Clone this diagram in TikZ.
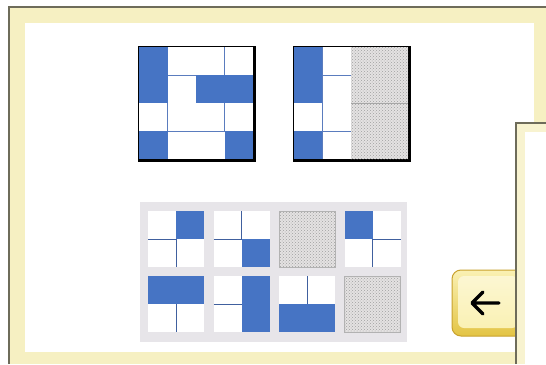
\documentclass[tikz,border=0pt]{standalone}
\usetikzlibrary{patterns}
\definecolor{frameyel}{HTML}{F6F0C2}
\definecolor{panelyel}{HTML}{F8F3D0}
\definecolor{frameline}{HTML}{6E6C5A}
\definecolor{cellblue}{HTML}{4674C4}
\definecolor{gridline}{HTML}{5A7CBE}
\definecolor{tileline}{HTML}{40609E}
\definecolor{panelgray}{HTML}{E7E5E9}
\definecolor{stip}{HTML}{E4E2E2}
\definecolor{btnedge}{HTML}{C9A22E}
\definecolor{btntop}{HTML}{FAF1B4}
\definecolor{btnbot}{HTML}{E3C444}
\tikzset{
  bluecell/.style={fill=cellblue},
  gline/.style={draw=gridline, line width=0.9pt},
  tline/.style={draw=tileline, line width=1pt},
  stipple/.style={preaction={fill=stip}, pattern=crosshatch dots, pattern color=gray!75},
  tilebase/.style={fill=white},
}
\begin{document}
\begin{tikzpicture}[x=1pt,y=-1pt]
\useasboundingbox (0,0) rectangle (546,364);
\fill[white] (0,0) rectangle (546,364);
% main frame
\fill[frameyel] (9,7) rectangle (546,364);
\draw[frameline, line width=1.2pt] (9,364) -- (9,7) -- (546,7);
\fill[white] (25,23) rectangle (534,352);

% grid 1
\begin{scope}[shift={(139,47)}, x=28.5pt, y=-28pt]
  \fill[black] (-0.04,-0.04) rectangle (4.12,4.11);
  \fill[white] (0,0) rectangle (4,4);
  \fill[bluecell] (0,0) rectangle (1,2);
  \fill[bluecell] (2,1) rectangle (4,2);
  \fill[bluecell] (0,3) rectangle (1,4);
  \fill[bluecell] (3,3) rectangle (4,4);
  \draw[gline] (3,0) -- (3,1);
  \draw[gline] (1,1) -- (2,1);
  \draw[gline] (1,2) -- (1,3);
  \draw[gline] (3,2) -- (3,3);
  \draw[gline] (1,3) -- (3,3);
\end{scope}

% grid 2
\begin{scope}[shift={(294,47)}, x=28.5pt, y=-28pt]
  \fill[black] (-0.04,-0.04) rectangle (4.12,4.11);
  \fill[white] (0,0) rectangle (4,4);
  \fill[bluecell] (0,0) rectangle (1,2);
  \fill[bluecell] (0,3) rectangle (1,4);
  \fill[stipple] (2,0) rectangle (4,4);
  \draw[gray!70, line width=0.8pt] (2,2) -- (4,2);
  \draw[gline] (1,0) -- (1,4);
  \draw[gline] (1,1) -- (2,1);
  \draw[gline] (1,3) -- (2,3);
\end{scope}

% bottom panel
\fill[panelgray] (140,202) rectangle (407,342);
\begin{scope}[shift={(148,211)}, x=28pt, y=-28pt]
  \fill[tilebase] (0,0) rectangle (2,2);
  \fill[bluecell] (1,0) rectangle (2,1);
  \draw[tline] (0,1) -- (1,1); \draw[tline] (1,1) -- (1,2);
\end{scope}
\begin{scope}[shift={(213.5,211)}, x=28pt, y=-28pt]
  \fill[tilebase] (0,0) rectangle (2,2);
  \fill[bluecell] (1,1) rectangle (2,2);
  \draw[tline] (1,0) -- (1,1); \draw[tline] (0,1) -- (1,1);
\end{scope}
\begin{scope}[shift={(279,211)}, x=28pt, y=-28pt]
  \fill[stipple] (0,0) rectangle (2,2);
  \draw[gray!60, line width=0.6pt] (0,0) rectangle (2,2);
\end{scope}
\begin{scope}[shift={(344.5,211)}, x=28pt, y=-28pt]
  \fill[tilebase] (0,0) rectangle (2,2);
  \fill[bluecell] (0,0) rectangle (1,1);
  \draw[tline] (1,1) -- (2,1); \draw[tline] (1,1) -- (1,2);
\end{scope}
\begin{scope}[shift={(148,276)}, x=28pt, y=-28pt]
  \fill[tilebase] (0,0) rectangle (2,2);
  \fill[bluecell] (0,0) rectangle (2,1);
  \draw[tline] (1,1) -- (1,2);
\end{scope}
\begin{scope}[shift={(213.5,276)}, x=28pt, y=-28pt]
  \fill[tilebase] (0,0) rectangle (2,2);
  \fill[bluecell] (1,0) rectangle (2,2);
  \draw[tline] (0,1) -- (1,1);
\end{scope}
\begin{scope}[shift={(279,276)}, x=28pt, y=-28pt]
  \fill[tilebase] (0,0) rectangle (2,2);
  \fill[bluecell] (0,1) rectangle (2,2);
  \draw[tline] (1,0) -- (1,1);
\end{scope}
\begin{scope}[shift={(344.5,276)}, x=28pt, y=-28pt]
  \fill[stipple] (0,0) rectangle (2,2);
  \draw[gray!60, line width=0.6pt] (0,0) rectangle (2,2);
\end{scope}

% back button
\shade[top color=btntop, bottom color=btnbot, draw=btnedge, line width=1pt, rounded corners=9pt]
  (452,270) rectangle (524,336);
\shade[top color=btntop!60!white, bottom color=btntop, rounded corners=6pt]
  (458,276) rectangle (518,328);
\draw[black, line width=3.2pt, line cap=round, line join=round]
  (473,303) -- (499,303) (483,292) -- (472,303) -- (483,314);

% second panel
\fill[panelyel] (516,123) rectangle (546,364);
\draw[frameline, line width=1.2pt] (516,364) -- (516,123) -- (546,123);
\fill[white] (525,132) rectangle (546,364);
\end{tikzpicture}
\end{document}
